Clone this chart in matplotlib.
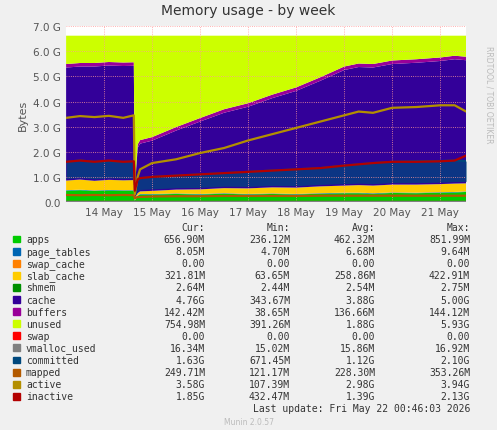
import matplotlib.pyplot as plt
import numpy as np

# day positions (day of May)
t = [13.21, 13.5, 13.8, 14.1, 14.4, 14.62, 14.64, 14.7, 14.75, 15.0, 15.5, 16.0, 16.5, 17.0,
     17.5, 18.0, 18.5, 19.0, 19.3, 19.6, 20.0, 20.5, 21.0, 21.3, 21.54]
G = 1e9
apps = [0.45, 0.47, 0.44, 0.46, 0.45, 0.45, 0.05, 0.25, 0.3, 0.3, 0.32, 0.3, 0.33, 0.3,
        0.32, 0.3, 0.33, 0.35, 0.35, 0.33, 0.36, 0.35, 0.37, 0.38, 0.4]
page_tables = [0.02] * 25
swap_cache = [0.0] * 25
slab_cache = [0.38, 0.4, 0.38, 0.4, 0.39, 0.4, 0.1, 0.08, 0.1, 0.12, 0.15, 0.18, 0.2, 0.22,
              0.24, 0.25, 0.27, 0.28, 0.3, 0.3, 0.31, 0.32, 0.32, 0.33, 0.32]
shmem = [0.003] * 25
cache = [4.5, 4.5, 4.55, 4.55, 4.55, 4.55, 0.3, 1.8, 1.9, 2.0, 2.35, 2.7, 3.0, 3.25,
         3.55, 3.85, 4.2, 4.6, 4.7, 4.7, 4.8, 4.85, 4.9, 4.95, 4.9]
buffers = [0.14] * 25
total = 6.62
lower = np.array(apps) + np.array(page_tables) + np.array(swap_cache) + np.array(slab_cache) \
    + np.array(shmem) + np.array(cache) + np.array(buffers)
unused = list(total - lower)
swap = [0.0] * 25
vmalloc_used = [0.016] * 25
committed = [1.6, 1.65, 1.6, 1.62, 1.6, 1.62, 0.7, 0.9, 0.95, 1.0, 1.05, 1.1, 1.15, 1.2,
             1.25, 1.3, 1.35, 1.45, 1.5, 1.55, 1.6, 1.62, 1.63, 1.65, 1.63]
mapped = [0.28, 0.27, 0.28, 0.27, 0.28, 0.27, 0.15, 0.2, 0.2, 0.22, 0.23, 0.23, 0.24, 0.24,
          0.24, 0.24, 0.25, 0.25, 0.25, 0.25, 0.25, 0.25, 0.25, 0.25, 0.25]
active = [3.35, 3.42, 3.38, 3.43, 3.35, 3.45, 0.3, 1.0, 1.3, 1.55, 1.7, 1.95, 2.15, 2.45,
          2.7, 2.95, 3.2, 3.45, 3.6, 3.55, 3.75, 3.78, 3.85, 3.85, 3.6]
inactive = [1.6, 1.65, 1.6, 1.65, 1.6, 1.62, 0.45, 0.9, 0.95, 1.0, 1.05, 1.1, 1.15, 1.2,
            1.25, 1.3, 1.35, 1.45, 1.5, 1.55, 1.6, 1.6, 1.62, 1.65, 1.85]

fig = plt.figure(figsize=(4.97, 4.31), dpi=100, facecolor='#F0F0F0')
ax = fig.add_axes([0.133, 0.529, 0.805, 0.408])
ax.set_facecolor('white')
stack = [apps, page_tables, swap_cache, slab_cache, shmem, cache, buffers, unused]
scol = ['#00CC00', '#0066B3', '#FF8000', '#FFCC00', '#008F00', '#330099', '#990099', '#CCFF00']
ax.stackplot(t, *[np.array(s) * G for s in stack], colors=scol, linewidth=0)
# committed band drawn above the slab level
base = np.array(apps) + np.array(page_tables) + np.array(slab_cache) + 0.08
ax.fill_between(t, base * G, np.array(committed) * G, where=np.array(committed) > base,
                color='#00487D', alpha=0.75, lw=0)
for s, c in [(swap, '#FF0000'), (vmalloc_used, '#808080'), (committed, '#00487D'),
             (mapped, '#B35A00'), (active, '#B38F00'), (inactive, '#B30000')]:
    ax.plot(t, np.array(s) * G, color=c, lw=1.6)
ax.set_xlim(13.21, 21.54)
ax.set_ylim(0, 7 * G)
ax.set_yticks(np.arange(0, 8) * G)
ax.set_yticklabels(['0.0'] + ['%.1f G' % v for v in range(1, 8)], fontsize=7.5, color='#555555')
ax.set_xticks(range(14, 22))
ax.set_xticklabels(['%d May' % d for d in range(14, 22)], fontsize=7.5, color='#555555')
ax.grid(color='#FF9999', linestyle=':', lw=0.6)
ax.tick_params(length=0)
for sp in ax.spines.values():
    sp.set_visible(False)
ax.set_ylabel('Bytes', fontsize=8, color='#555555')
fig.text(0.5, 0.965, 'Memory usage - by week', ha='center', fontsize=10, color='#333333')
fig.text(0.975, 0.78, 'RRDTOOL / TOBI OETIKER', rotation=270, fontsize=5.5, color='#BBBBBB', va='center')

names = ['apps', 'page_tables', 'swap_cache', 'slab_cache', 'shmem', 'cache', 'buffers', 'unused',
         'swap', 'vmalloc_used', 'committed', 'mapped', 'active', 'inactive']
cols = scol + ['#FF0000', '#808080', '#00487D', '#B35A00', '#B38F00', '#B30000']
cur = ['656.90M', '8.05M', '0.00', '321.81M', '2.64M', '4.76G', '142.42M', '754.98M', '0.00',
       '16.34M', '1.63G', '249.71M', '3.58G', '1.85G']
mn = ['236.12M', '4.70M', '0.00', '63.65M', '2.44M', '343.67M', '38.65M', '391.26M', '0.00',
      '15.02M', '671.45M', '121.17M', '107.39M', '432.47M']
avg = ['462.32M', '6.68M', '0.00', '258.86M', '2.54M', '3.88G', '136.66M', '1.88G', '0.00',
       '15.86M', '1.12G', '228.30M', '2.98G', '1.39G']
mx = ['851.99M', '9.64M', '0.00', '422.91M', '2.75M', '5.00G', '144.12M', '5.93G', '0.00',
      '16.92M', '2.10G', '353.26M', '3.94G', '2.13G']
fs = 7
fp = dict(fontsize=fs, family='DejaVu Sans Mono', color='#333333', va='center')
y0 = 1 - 228 / 431
fig.text(205 / 497, y0, 'Cur:', ha='right', **fp)
fig.text(290 / 497, y0, 'Min:', ha='right', **fp)
fig.text(375 / 497, y0, 'Avg:', ha='right', **fp)
fig.text(470 / 497, y0, 'Max:', ha='right', **fp)
for i, n in enumerate(names):
    y = 1 - (240 + i * 12.1) / 431
    fig.patches.append(plt.Rectangle((13 / 497, y - 0.008), 7 / 497, 0.016, color=cols[i],
                                     transform=fig.transFigure, figure=fig))
    fig.text(26 / 497, y, n, ha='left', **fp)
    for xv, arr in [(205, cur), (290, mn), (375, avg), (470, mx)]:
        fig.text(xv / 497, y, arr[i], ha='right', **fp)
fig.text(470 / 497, 1 - 409 / 431, 'Last update: Fri May 22 00:46:03 2026', ha='right', **fp)
fig.text(0.5, 1 - 423 / 431, 'Munin 2.0.57', ha='center', fontsize=5.5, color='#BBBBBB', va='center')
fig.savefig('out.png', dpi=100, facecolor='#F0F0F0')
